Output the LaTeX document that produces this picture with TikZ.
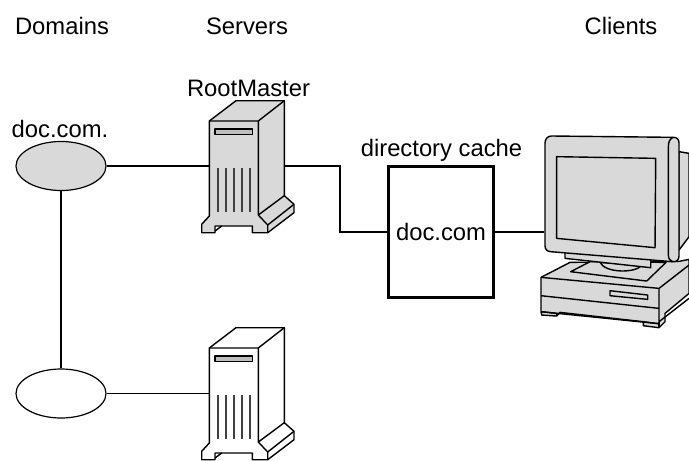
\documentclass[tikz,border=0pt]{standalone}
\usepackage{fontspec}
\setmainfont{Liberation Sans}
\usetikzlibrary{shapes.geometric}
\definecolor{partgray}{HTML}{D9D9D9}
\definecolor{slotgray}{HTML}{BEBEBE}
\tikzset{
  caption/.style={inner sep=0pt,font=\fontsize{11.9}{14}\selectfont},
  domainoval/.style={draw,ellipse,inner sep=0pt,minimum width=45pt,minimum height=24.5pt,line width=.6pt},
  ghost/.style={inner sep=0pt,minimum width=37.5pt,minimum height=20pt},
  link/.style={line width=.6pt},
  part/.style={draw,line width=.7pt,line join=round},
}
% one tower, #1 is the vertical offset, #2 the body colour
\newcommand{\drawtower}[2]{
  \begin{scope}[shift={(0,#1)}]
    \filldraw[part,fill=#2] (209.3,121) -- (236,100.7) -- (284.3,100.7) -- (284.3,195.7)
      -- (294,204.3) -- (294,212.7) -- (267.7,232.7) -- (252.3,232.7) -- (252.3,226)
      -- (215,226) -- (215,232.7) -- (201.7,232.7) -- (201.7,224.3) -- (209.3,216) -- cycle;
    \draw[part] (209.3,121) -- (258.3,121) -- (284.3,100.7);
    \draw[part] (258.3,121) -- (258.3,215) -- (267.7,225) -- (267.7,232.7);
    \draw[part] (258.3,215) -- (284.3,195.7);
    \draw[part] (267.7,225) -- (294,204.3);
    \draw[part] (215,231) -- (221.7,226);
    \filldraw[part,fill=slotgray] (215,129) rectangle (252.7,134.7);
    \foreach \ventx in {217.7,225.7,233.7,241.7,250}
      \draw[line width=.8pt,black!75] (\ventx,168.3) -- (\ventx,211.7);
  \end{scope}
}
\begin{document}
\begin{tikzpicture}[x=.5pt,y=-.5pt]
  \useasboundingbox (0,0) rectangle (689,460);
  % column heads
  \node[caption] (domains) at (62,26) {Domains};
  \node[caption] (servers) at (247,26) {Servers};
  \node[caption] (clients) at (621,26) {Clients};
  \node[caption] (rootlabel) at (248.5,88) {RootMaster};
  \node[caption] (doclabel) at (60,129) {doc.com.};
  \node[caption] (cachelabel) at (441.5,150) {directory cache};
  % towers
  \drawtower{0}{partgray}
  \drawtower{227}{white}
  % computer
  \begin{scope}[shift={(530,125)},x=.1667pt,y=-.1667pt]
    \filldraw[part,fill=partgray] (447,80) -- (477,85) -- (477,335) -- (447,375) -- cycle;
    \filldraw[part,fill=partgray] (33,457) -- (120,412) -- (447,409) -- (477,403) -- (477,505)
      -- (405,565) -- (405,590) -- (387,608) -- (340,602) -- (340,590) -- (90,562) -- (80,573)
      -- (35,570) -- (33,560) -- cycle;
    \draw[part] (33,457) -- (387,490) -- (477,420);
    \draw[part] (387,490) -- (387,590) -- (477,520);
    \draw[part] (33,512) -- (387,550);
    \draw[part] (33,560) -- (387,596);
    \draw[part] (387,590) -- (387,608);
    \draw[part] (35,560) -- (80,565) -- (80,573);
    \draw[part] (340,590) -- (387,596);
    \filldraw[part,fill=partgray] (240,497) -- (353,510) -- (353,523) -- (240,512) -- cycle;
    \filldraw[part,fill=partgray] (180,410) -- (122,440) -- (350,468) -- (408,412) -- cycle;
    \filldraw[part,fill=partgray] (210,412) .. controls (225,445) and (320,445) .. (335,420) -- cycle;
    \filldraw[part,fill=partgray] (105,380) -- (105,400) -- (362,428) -- (362,400) -- cycle;
    \filldraw[part,fill=partgray] (65,33) -- (430,37) .. controls (442,37) and (447,44) .. (447,55)
      -- (447,392) .. controls (447,404) and (440,411) .. (428,410) -- (62,380)
      .. controls (51,379) and (45,373) .. (45,362) -- (45,55) .. controls (45,42) and (52,33) .. (65,33) -- cycle;
    \draw[part] (430,37) .. controls (420,40) and (415,50) .. (415,65) -- (415,390) .. controls (415,400) and (420,408) .. (428,410);
    \draw[part] (80,95) -- (377,100) -- (375,368) -- (80,340) -- cycle;
  \end{scope}
  % named spots on the drawings
  \node[ghost] (rootsrv) at (246.8,166) {};
  \node[ghost] (lowersrv) at (246.8,393.5) {};
  \node[inner sep=0pt] (client) at (545,232) {};
  \node[domainoval,fill=partgray] (rootdomain) at (61,166) {};
  \node[domainoval,fill=white] (lowerdomain) at (61,393.5) {};
  \node[caption,draw,line width=1.4pt,minimum width=52.5pt,minimum height=65.5pt] (cache) at (441,232) {doc.com};
  \coordinate (bend) at (340,166);
  % links
  \draw[link] (rootdomain.east) -- (rootsrv.west);
  \draw[link] (rootdomain.south) -- (lowerdomain.north);
  \draw[link] (lowerdomain.east) -- (lowersrv.west);
  \draw[link] (rootsrv.east) -- (bend) |- (cache.west);
  \draw[link] (cache.east) -- (client);
\end{tikzpicture}
\end{document}
